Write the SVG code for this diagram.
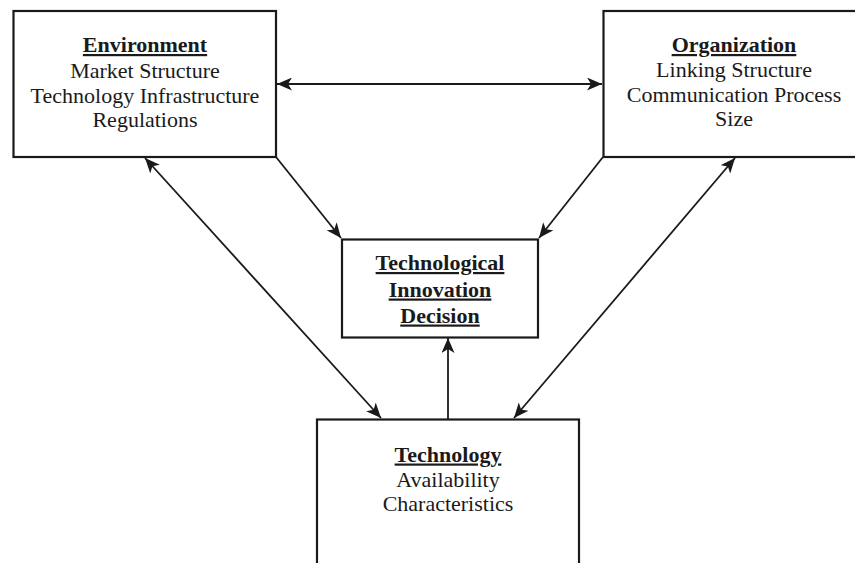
<svg xmlns="http://www.w3.org/2000/svg" width="855" height="563" viewBox="0 0 855 563">
<defs>
<style>
.box{fill:#fff;stroke:#1a1a1a;stroke-width:2.2}
.t{font-family:"Liberation Serif","Times New Roman",serif;font-size:22px;fill:#1a1a1a;text-anchor:middle}
.h{font-weight:bold;text-decoration:underline}
.c{fill:none;stroke:#1a1a1a;stroke-width:1.8}
</style>
<marker id="ah" viewBox="0 0 15 13" refX="15" refY="6.5" markerWidth="15" markerHeight="13" markerUnits="userSpaceOnUse" orient="auto-start-reverse">
<path d="M0,0 L15,6.5 L0,13 L4,6.5 Z" fill="#1a1a1a"/>
</marker>
</defs>
<rect width="855" height="563" fill="#fff"/>
<g id="connectors">
<line class="c" x1="277" y1="84" x2="602" y2="84" marker-start="url(#ah)" marker-end="url(#ah)"/>
<line class="c" x1="276" y1="157" x2="341" y2="238" marker-end="url(#ah)"/>
<line class="c" x1="603" y1="157" x2="539" y2="238" marker-end="url(#ah)"/>
<line class="c" x1="145" y1="158" x2="381" y2="418" marker-start="url(#ah)" marker-end="url(#ah)"/>
<line class="c" x1="735" y1="158" x2="514" y2="418" marker-start="url(#ah)" marker-end="url(#ah)"/>
<line class="c" x1="448" y1="419" x2="448" y2="338" marker-end="url(#ah)"/>
</g>
<g id="environment">
<rect class="box" x="13.5" y="11" width="262.5" height="146"/>
<text class="t h" x="145" y="52">Environment</text>
<text class="t" x="145" y="78">Market Structure</text>
<text class="t" x="145" y="102.5">Technology Infrastructure</text>
<text class="t" x="145" y="127">Regulations</text>
</g>
<g id="organization">
<rect class="box" x="603.5" y="11" width="263" height="146"/>
<text class="t h" x="734" y="52">Organization</text>
<text class="t" x="734" y="77">Linking Structure</text>
<text class="t" x="734" y="101.5">Communication Process</text>
<text class="t" x="734" y="126">Size</text>
</g>
<g id="decision">
<rect class="box" x="342" y="239.5" width="196" height="98"/>
<text class="t h" x="440" y="270">Technological</text>
<text class="t h" x="440" y="296.5">Innovation</text>
<text class="t h" x="440" y="322.5">Decision</text>
</g>
<g id="technology">
<rect class="box" x="317" y="419.5" width="262" height="160"/>
<text class="t h" x="448" y="461.5">Technology</text>
<text class="t" x="448" y="486.5">Availability</text>
<text class="t" x="448" y="511">Characteristics</text>
</g>
</svg>
